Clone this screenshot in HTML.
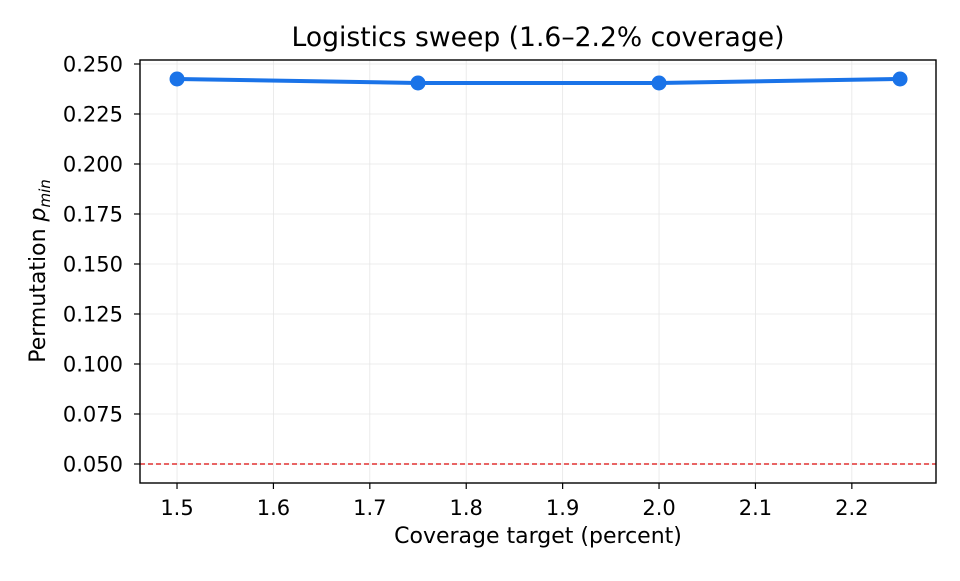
<!DOCTYPE html>
<html><head><meta charset="utf-8"><style>
body{margin:0;background:#fff;font-family:"Liberation Sans","DejaVu Sans",sans-serif;}
svg text{font-family:"DejaVu Sans","Liberation Sans",sans-serif;fill:#000;}
</style></head><body>
<svg id="chart" width="960" height="576" xmlns="http://www.w3.org/2000/svg"></svg>
<script>
const categories=[1.5,1.75,2.0,2.25];
const pValues=[0.2425,0.2405,0.2405,0.2425];
const xTicks=[1.5,1.6,1.7,1.8,1.9,2.0,2.1,2.2];
const yTicks=[0.05,0.075,0.1,0.125,0.15,0.175,0.2,0.225,0.25];
const threshold=0.05;
const L=140,R=936,T=60,B=483;
const xmin=1.4616,xmax=2.2873,ymin=0.0405,ymax=0.252;
const xs=v=>L+(v-xmin)/(xmax-xmin)*(R-L);
const ys=v=>B-(v-ymin)/(ymax-ymin)*(B-T);
const svg=document.getElementById('chart');
const NS='http://www.w3.org/2000/svg';
function mk(tag,attrs,text){const e=document.createElementNS(NS,tag);for(const k in attrs)e.setAttribute(k,attrs[k]);if(text!==undefined)e.textContent=text;svg.appendChild(e);return e;}
xTicks.forEach(t=>{
 const g=mk('line',{x1:xs(t),x2:xs(t),y1:T,y2:B,stroke:'#e6e6e6','stroke-width':0.8});
 
 
 mk('line',{x1:xs(t),x2:xs(t),y1:B,y2:B+6,stroke:'#000','stroke-width':1.2});
 const lb=mk('text',{x:xs(t),y:B+32,'text-anchor':'middle','font-size':21},t.toFixed(1));
 
 
});
yTicks.forEach(t=>{
 const g=mk('line',{x1:L,x2:R,y1:ys(t),y2:ys(t),stroke:'#e6e6e6','stroke-width':0.8});
 
 
 mk('line',{x1:L-6,x2:L,y1:ys(t),y2:ys(t),stroke:'#000','stroke-width':1.2});
 const lb=mk('text',{x:L-17,y:ys(t)+7.5,'text-anchor':'end','font-size':21},t.toFixed(3));
 
 
});
const th=mk('line',{x1:L,x2:R,y1:ys(threshold),y2:ys(threshold),stroke:'#e03030','stroke-width':1.5,'stroke-dasharray':'5,3'});


const pts=categories.map((c,i)=>xs(c)+','+ys(pValues[i])).join(' ');
const pl=mk('polyline',{points:pts,fill:'none',stroke:'#1a73e8','stroke-width':4,'stroke-linejoin':'round'});


categories.forEach((c,i)=>{
 const p=mk('circle',{cx:xs(c),cy:ys(pValues[i]),r:7.5,fill:'#1a73e8'});
 
 
});
const fr=mk('rect',{x:L,y:T,width:R-L,height:B-T,fill:'none',stroke:'#000','stroke-width':1.4});


const tt=mk('text',{x:(L+R)/2,y:46,'text-anchor':'middle','font-size':26.6},'Logistics sweep (1.6–2.2% coverage)');


const xt=mk('text',{x:(L+R)/2,y:543,'text-anchor':'middle','font-size':22},'Coverage target (percent)');


const yt=mk('text',{x:0,y:0,'text-anchor':'middle','font-size':22,transform:'translate(45,271) rotate(-90)'});
yt.innerHTML='Permutation <tspan font-style="italic">p</tspan><tspan font-style="italic" font-size="15" dy="5">min</tspan>';


</script>
</body></html>
